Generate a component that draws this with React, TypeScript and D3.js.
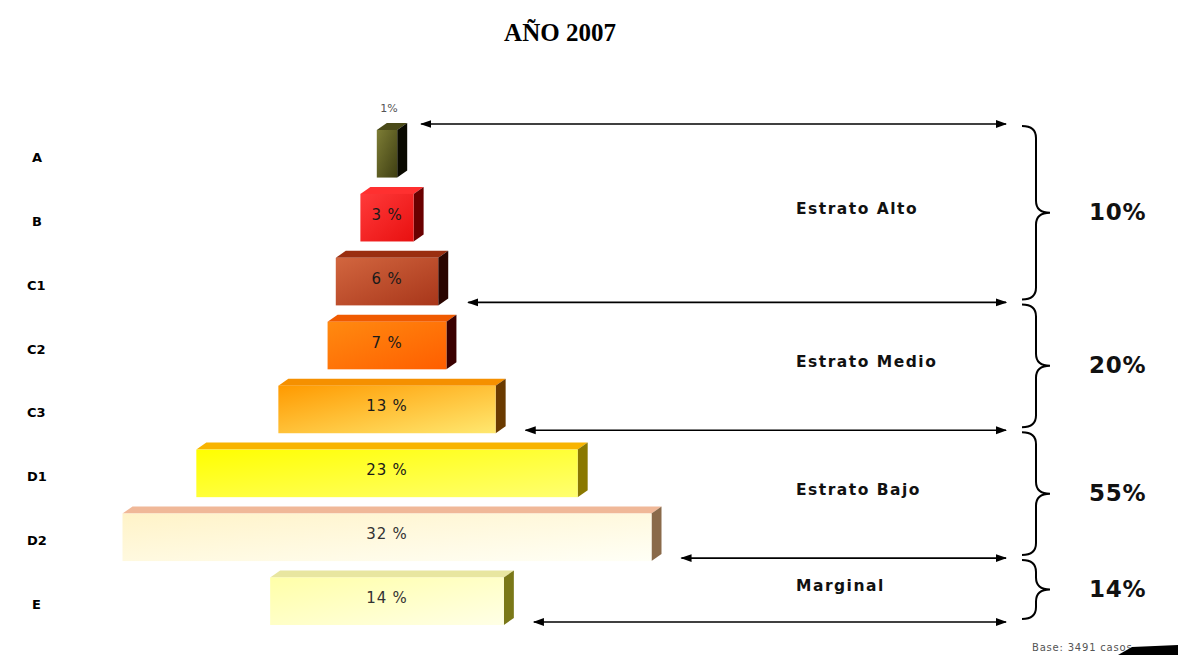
import React from "react";
import * as d3 from "d3";

const categories = ["A", "B", "C1", "C2", "C3", "D1", "D2", "E"];
const values = [1, 3, 6, 7, 13, 23, 32, 14];
const valueLabels = ["1%", "3 %", "6 %", "7 %", "13 %", "23 %", "32 %", "14 %"];
const groupNames = ["Estrato Alto", "Estrato Medio", "Estrato Bajo", "Marginal"];
const groupTotals = ["10%", "20%", "55%", "14%"];
const groupLast = ["C1", "C3", "D2", "E"];

// colours: [front light, front dark, top, side]
const barColors = [
  ["#7d7d35", "#3e3e12", "#4a4a18", "#0a0a00"],
  ["#ff3a3a", "#e81010", "#ff3030", "#6a0000"],
  ["#d2663f", "#a8361a", "#9a2e10", "#2a0500"],
  ["#ff8a10", "#ff5e00", "#f05a00", "#3a0000"],
  ["#ff9a00", "#ffe870", "#f59000", "#6a3a00"],
  ["#ffff00", "#ffff70", "#f8b400", "#8a7800"],
  ["#fff3c8", "#fffff6", "#f0b898", "#8a6a4a"],
  ["#ffffa8", "#ffffe6", "#e8e6a0", "#7a7818"],
];

const W = 1178;
const H = 655;
const CX = 387;
const DX = 10;
const DY = 7;

export default function App() {
  const y = d3.scaleBand<string>().domain(categories).range([130, 625]).paddingInner(0.256).paddingOuter(0);
  const w = d3.scaleLinear().domain([0, 32]).range([4, 529]);
  const bw = y.bandwidth();
  const font = "'DejaVu Sans', sans-serif";

  const right = (c: string) => CX + w(values[categories.indexOf(c)]) / 2 + DX;
  const boundaries = [
    { yy: (y("A") as number) - 6, x0: right("A") + 14 },
    ...groupLast.map((c) => ({ yy: (y(c) as number) + bw - 3, x0: right(c) + 20 })),
  ];
  const arrowEnd = 1006;
  const bx0 = 1022, bx1 = 1036, bx2 = 1050;

  const brace = (y1: number, y2: number) => {
    const ym = (y1 + y2) / 2;
    const r = Math.min(12, (y2 - y1) / 4);
    const p = d3.path();
    p.moveTo(bx0, y1);
    p.quadraticCurveTo(bx1, y1, bx1, y1 + r);
    p.lineTo(bx1, ym - r);
    p.quadraticCurveTo(bx1, ym, bx2, ym);
    p.quadraticCurveTo(bx1, ym, bx1, ym + r);
    p.lineTo(bx1, y2 - r);
    p.quadraticCurveTo(bx1, y2, bx0, y2);
    return p.toString();
  };

  return (
    <svg width={W} height={H} style={{ position: "absolute", left: 0, top: 0, background: "#fff" }}>
      <defs>
        {barColors.map((c, i) => (
          <linearGradient key={i} id={`g${i}`} x1="0" y1="0" x2="1" y2="1">
            <stop offset="0%" stopColor={c[0]} />
            <stop offset="100%" stopColor={c[1]} />
          </linearGradient>
        ))}
        <marker id="ah" viewBox="0 0 10 10" refX="9" refY="5" markerWidth="7" markerHeight="7" orient="auto-start-reverse">
          <path d="M0,1.5 L10,5 L0,8.5 Z" fill="#000" />
        </marker>
      </defs>

      <text x={560} y={41} textAnchor="middle" fontFamily="'Liberation Serif', serif" fontWeight="bold" fontSize={25}>
        AÑO 2007
      </text>

      {categories.map((c, i) => {
        const bw0 = w(values[i]);
        const x0 = CX - bw0 / 2;
        const x1 = CX + bw0 / 2;
        const t = y(c) as number;
        const b = t + bw;
        const col = barColors[i];
        return (
          <g key={c}>
            <polygon points={`${x0},${t} ${x0 + DX},${t - DY} ${x1 + DX},${t - DY} ${x1},${t}`} fill={col[2]} />
            <polygon points={`${x1},${t} ${x1 + DX},${t - DY} ${x1 + DX},${b - DY} ${x1},${b}`} fill={col[3]} />
            <rect x={x0} y={t} width={bw0} height={bw} fill={`url(#g${i})`} />
            <text x={27 + (c.length === 1 ? 5 : 0)} y={t + bw / 2 + 8} fontFamily={font} fontWeight="bold" fontSize={13}>
              {c}
            </text>
            {i === 0 ? (
              <text x={(x0 + x1) / 2 + 2} y={t - 18} textAnchor="middle" fontFamily={font} fontSize={11} fill="#555">
                {valueLabels[i]}
              </text>
            ) : (
              <text x={(x0 + x1) / 2} y={t + bw / 2 + 2} textAnchor="middle" fontFamily={font} fontSize={15} letterSpacing={0.8} fill={i >= 6 ? "#333" : "#1a1a1a"}>
                {valueLabels[i]}
              </text>
            )}
          </g>
        );
      })}

      {boundaries.map((bd, i) => (
        <line key={i} x1={bd.x0} y1={bd.yy} x2={arrowEnd} y2={bd.yy} stroke="#000" strokeWidth={1.6} markerStart="url(#ah)" markerEnd="url(#ah)" />
      ))}

      {groupNames.map((g, i) => {
        const y1 = boundaries[i].yy;
        const y2 = boundaries[i + 1].yy;
        const ym = (y1 + y2) / 2;
        return (
          <g key={g}>
            <path d={brace(y1 + 2, y2 - 3)} fill="none" stroke="#000" strokeWidth={2} />
            <text x={796} y={ym + 1} fontFamily={font} fontWeight="bold" fontSize={15.5} letterSpacing={1.5} fill="#111">
              {g}
            </text>
            <text x={1089} y={ym + 7} fontFamily={font} fontWeight="bold" fontSize={23} letterSpacing={0.8} fill="#111">
              {groupTotals[i]}
            </text>
          </g>
        );
      })}

      <text x={1032} y={651} fontFamily={font} fontSize={10} letterSpacing={0.8} fill="#555">
        Base: 3491 casos
      </text>
      <polygon points="1118,655 1132,647 1178,645 1178,655" fill="#000" />
    </svg>
  );
}
